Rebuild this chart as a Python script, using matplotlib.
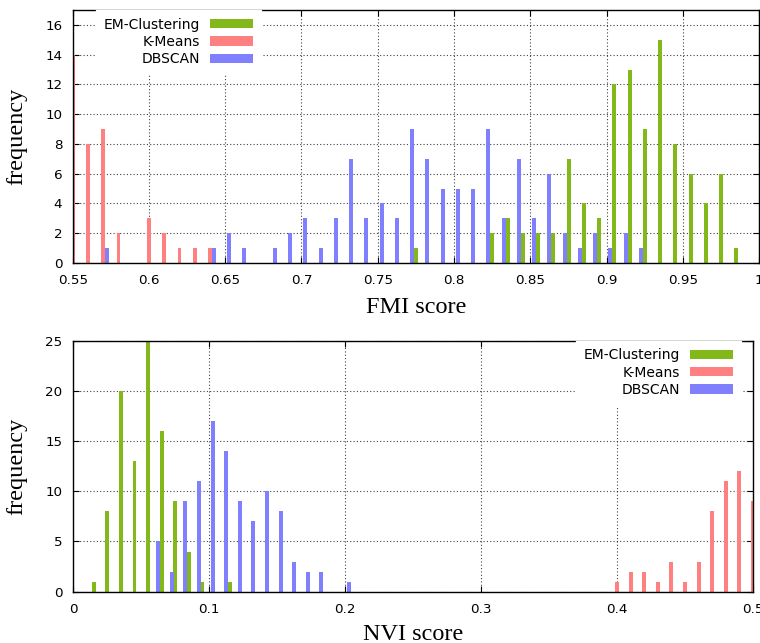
import numpy as np
import matplotlib.pyplot as plt
from matplotlib.ticker import MultipleLocator, FuncFormatter

# histogram counts, bins are 0.01 wide, x = bin value
fmi_em_x = [0.77, 0.82, 0.83, 0.84, 0.85, 0.86, 0.87, 0.88, 0.89, 0.90,
            0.91, 0.92, 0.93, 0.94, 0.95, 0.96, 0.97, 0.98]
fmi_em_n = [1, 2, 3, 2, 2, 2, 7, 4, 3, 12, 13, 9, 15, 8, 6, 4, 6, 1]

fmi_km_x = [0.55, 0.56, 0.57, 0.58, 0.60, 0.61, 0.62, 0.63, 0.64]
fmi_km_n = [14, 8, 9, 2, 3, 2, 1, 1, 1]

fmi_db_x = [0.57, 0.64, 0.65, 0.66, 0.68, 0.69, 0.70, 0.71, 0.72, 0.73,
            0.74, 0.75, 0.76, 0.77, 0.78, 0.79, 0.80, 0.81, 0.82, 0.83,
            0.84, 0.85, 0.86, 0.87, 0.88, 0.89, 0.90, 0.91, 0.92]
fmi_db_n = [1, 1, 2, 1, 1, 2, 3, 1, 3, 7, 3, 4, 3, 9, 7, 5, 5, 5, 9, 3,
            7, 3, 6, 2, 1, 2, 1, 2, 1]

nvi_em_x = [0.01, 0.02, 0.03, 0.04, 0.05, 0.06, 0.07, 0.08, 0.09, 0.11]
nvi_em_n = [1, 8, 20, 13, 27, 16, 9, 4, 1, 1]  # 0.05 bar runs off the top

nvi_km_x = [0.40, 0.41, 0.42, 0.43, 0.44, 0.45, 0.46, 0.47, 0.48, 0.49, 0.50]
nvi_km_n = [1, 2, 2, 1, 3, 1, 3, 8, 11, 12, 9]

nvi_db_x = [0.06, 0.07, 0.08, 0.09, 0.10, 0.11, 0.12, 0.13, 0.14, 0.15,
            0.16, 0.17, 0.18, 0.20]
nvi_db_n = [5, 2, 9, 11, 17, 14, 9, 7, 10, 8, 3, 2, 2, 1]

names = ["EM-Clustering", "K-Means", "DBSCAN"]
colors = ["#82b81a", "#ff8080", "#8080ff"]
offsets = [0.52, 0.0, 0.26]   # bar offset inside a bin, in bins

plt.rcParams['font.family'] = 'DejaVu Sans'
plt.rcParams['font.size'] = 9.7

fig = plt.figure(figsize=(7.6, 6.43), dpi=100)
ax1 = fig.add_axes([0.0957, 0.591, 0.903, 0.3935])
ax2 = fig.add_axes([0.0961, 0.0798, 0.8947, 0.3904])

def panel(ax, data, width, xlim, ylim, xstep, ystep, xlabel, xlab_y, leg_x):
    handles = []
    for (xs, ns), name, c, off in zip(data, names, colors, offsets):
        h = ax.bar(np.array(xs) + off * 0.01, ns, width=width * 0.01,
                   color=c, linewidth=0, label=name)
        handles.append(h)
    ax.set_xlim(*xlim)
    ax.set_ylim(*ylim)
    ax.xaxis.set_major_locator(MultipleLocator(xstep))
    ax.yaxis.set_major_locator(MultipleLocator(ystep))
    ax.xaxis.set_major_formatter(FuncFormatter(lambda v, p: "%g" % round(v, 4)))
    ax.tick_params(direction='in', length=4.3, width=0.8, top=True, right=True,
                   labelsize=9.7)
    ax.tick_params(axis='x', pad=8)
    ax.tick_params(axis='y', pad=7.5)
    ax.set_axisbelow(True)
    ax.grid(True, color='black', linestyle=(0, (1, 2)), linewidth=0.8, alpha=0.75)
    for s in ax.spines.values():
        s.set_linewidth(1.0)
    ax.set_xlabel(xlabel, family='Liberation Serif', fontsize=17.5)
    ax.xaxis.set_label_coords(0.5, xlab_y)
    ax.xaxis.label.set_va('baseline')
    ax.set_ylabel("frequency", family='Liberation Serif', fontsize=17.5)
    ax.yaxis.label.set_va('center')
    leg = ax.legend(handles, names, loc='upper right', bbox_to_anchor=(leg_x, 1.0),
                    markerfirst=False, frameon=True, fancybox=False,
                    handlelength=3.1, handleheight=0.65, handletextpad=0.75,
                    labelspacing=0.24, borderpad=0.55, borderaxespad=0,
                    fontsize=10)
    leg.get_frame().set_edgecolor('white')
    leg.get_frame().set_facecolor('white')
    leg.get_frame().set_alpha(1.0)
    return ax

panel(ax1, [(fmi_em_x, fmi_em_n), (fmi_km_x, fmi_km_n), (fmi_db_x, fmi_db_n)],
      0.26, (0.55, 1.0), (0, 17), 0.05, 2, "FMI score", -0.198, 0.274)
ax1.yaxis.set_label_coords(-0.081, 0.5)

panel(ax2, [(nvi_em_x, nvi_em_n), (nvi_km_x, nvi_km_n), (nvi_db_x, nvi_db_n)],
      0.29, (0.0, 0.5), (0, 25), 0.1, 5, "NVI score", -0.192, 0.982)
ax2.yaxis.set_label_coords(-0.082, 0.5)

fig.savefig("out.png", dpi=100)
